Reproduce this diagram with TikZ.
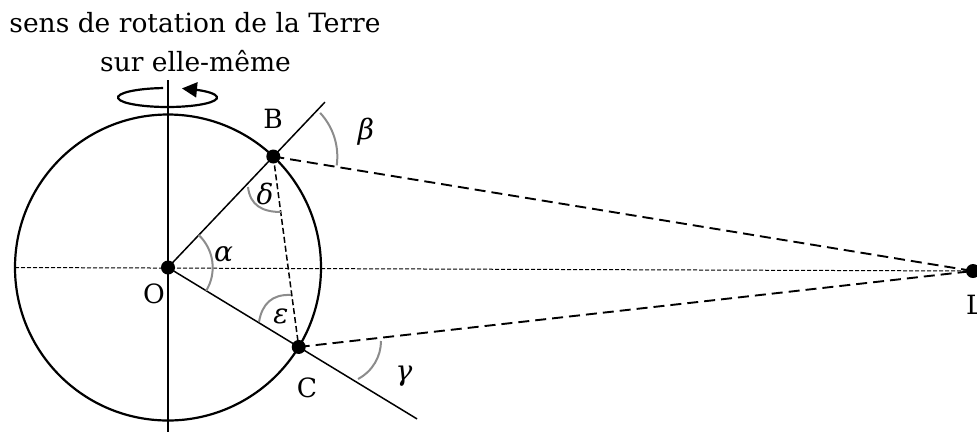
\documentclass[tikz,border=0pt]{standalone}
\usepackage{fontspec}
\setmainfont{DejaVu Serif}
\usetikzlibrary{arrows.meta,bending}
\definecolor{arcgray}{RGB}{140,140,140}
\begin{document}
\begin{tikzpicture}[x=1pt,y=-1pt,
  axisline/.style={line width=1.2pt},
  rayline/.style={line width=1.5pt},
  earth/.style={line width=2.2pt},
  sightline/.style={line width=1.9pt, dash pattern=on 11pt off 6pt},
  chord/.style={line width=1.5pt, dash pattern=on 6pt off 3pt},
  equator/.style={line width=1pt, dash pattern=on 4pt off 2pt},
  anglemark/.style={draw=arcgray, line width=2pt},
  dot/.style={circle, fill=black, inner sep=0pt, minimum size=14pt},
  lbl/.style={inner sep=0pt, anchor=base, font=\fontsize{26.5}{30}\selectfont},
  glbl/.style={inner sep=0pt, font=\fontsize{28}{30}\selectfont\itshape},
  ttl/.style={inner sep=0pt, anchor=base, font=\fontsize{26.5}{32}\selectfont}]
\useasboundingbox (0,0) rectangle (977,432);
\coordinate (O) at (168,267.5);
\coordinate (B) at ([shift={(-46.5:153)}]O);
\coordinate (C) at ([shift={(31.3:153)}]O);
\coordinate (L) at (973,271);
\coordinate (Bend) at ([shift={(-46.5:228)}]O);
\coordinate (Cend) at ([shift={(31.3:291.5)}]O);
\coordinate (Wedge) at (15,267.5);
\coordinate (Ntop) at (168,80);
\coordinate (Sbot) at (168,432);
\coordinate (Spin) at (167.5,97.5);

\draw[axisline] (Ntop) -- (Sbot);
\draw[equator] (Wedge) -- (L);
\draw[earth] (O) circle[radius=153];
\draw[rayline] (O) -- (Bend);
\draw[rayline] (O) -- (Cend);
\draw[sightline] (B) -- (L);
\draw[sightline] (C) -- (L);
\draw[chord] (B) -- (C);
\draw[earth, -{Triangle[length=15pt,width=15pt]}] ([shift={(265:49.5 and 9.5)}]Spin) arc[start angle=265, end angle=-73, x radius=49.5, y radius=9.5];

\draw[anglemark] ([shift={(-46.5:44.7)}]O) arc[start angle=-46.5, end angle=31.3, radius=44.7];
\draw[anglemark] ([shift={(-43:64)}]B) arc[start angle=-43, end angle=8, radius=64];
\draw[anglemark] (248,187) .. controls (250,205) and (262,212) .. (281,212);
\draw[anglemark] (259,322) .. controls (262,304) and (272,294) .. (291,295);
\draw[anglemark] (381,341) .. controls (381,356) and (373,371) .. (358,379);

\node[dot] (Od) at (O) {};
\node[dot] (Bd) at (B) {};
\node[dot] (Cd) at (C) {};
\node[dot] (Ld) at (L) {};

\node[lbl] (Bl) at (273,128.3) {B};
\node[lbl] (Ol) at (154,303) {O};
\node[lbl] (Cl) at (307,397) {C};
\node[lbl, anchor=base west] (Ll) at (966,314) {L};

\node[glbl] (al) at (223.5,254) {α};
\node[glbl] (be) at (366,132) {β};
\node[glbl] (de) at (265,193.5) {δ};
\node[glbl] (ep) at (281,316.5) {ε};
\node[glbl] (ga) at (404,376) {γ};

\node[ttl] (t1) at (195,32.3) {sens de rotation de la Terre};
\node[ttl] (t2) at (195.5,71.7) {sur elle-même};
\end{tikzpicture}
\end{document}
